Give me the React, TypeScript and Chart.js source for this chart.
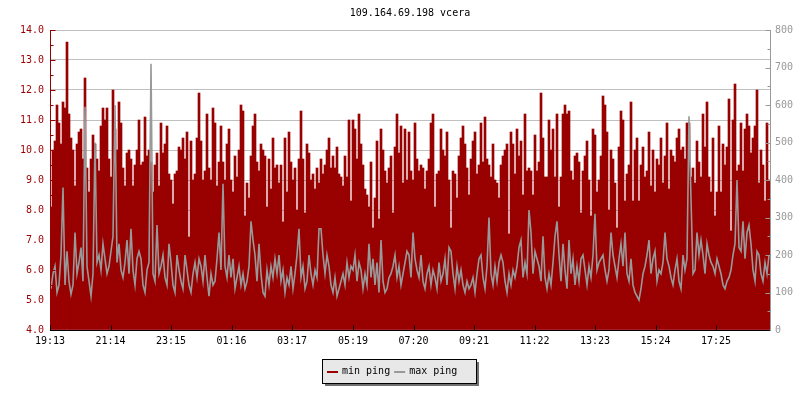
import React, { useEffect, useRef } from "react";
import { Chart, registerables } from "chart.js";

Chart.register(...registerables);

const TITLE = "109.164.69.198 vcera";
const seriesNames = ["min ping", "max ping"];
const timeLabels = ["19:13", "21:14", "23:15", "01:16", "03:17", "05:19", "07:20", "09:21", "11:22", "13:23", "15:24", "17:25"];

// min ping (left axis), one value per 2px column, 24h span
const minPing = [
  8.1, 10.0, 10.3, 11.5, 10.9, 10.2, 11.6, 11.4, 13.6, 11.2, 10.4, 10.0, 8.8, 10.2, 10.6, 10.7, 9.7, 12.4, 9.4, 8.6, 9.7, 10.5, 10.2, 9.7, 9.3, 10.8, 11.4, 11.0, 11.4, 9.7, 9.1, 12.0, 10.7, 10.0, 11.6, 10.9, 9.4, 8.8, 9.9, 10.0, 9.7, 8.8, 9.5, 10.0, 11.0,
  9.5, 9.6, 11.1, 9.8, 10.0, 9.6, 8.6, 9.5, 9.9, 8.8, 10.9, 9.9, 10.2, 10.8, 9.2, 9.0, 8.2, 9.2, 9.3, 10.1, 10.0, 10.4, 9.7, 10.6, 7.1, 10.3, 9.0, 9.2, 10.4, 11.9, 10.3, 9.0, 9.3, 11.2, 9.4, 9.0, 11.4, 10.9, 8.8, 9.6, 10.8, 9.6, 9.0, 10.2, 10.7,
  9.0, 8.6, 9.8, 9.1, 10.0, 11.5, 11.3, 7.8, 8.9, 8.4, 9.8, 10.8, 11.2, 9.6, 9.3, 10.2, 10.0, 9.8, 8.1, 9.7, 8.7, 10.4, 9.4, 9.5, 8.9, 9.5, 7.6, 10.4, 8.6, 10.6, 9.6, 9.0, 9.4, 8.0, 9.7, 11.3, 9.7, 7.9, 10.2, 9.9, 9.0, 9.2, 8.7, 9.4, 8.9,
  9.7, 9.2, 9.5, 10.0, 10.4, 9.4, 9.8, 9.4, 10.1, 9.2, 9.1, 8.8, 9.8, 9.1, 11.0, 8.3, 11.0, 10.7, 9.7, 11.2, 10.2, 9.5, 8.7, 8.5, 8.1, 9.6, 7.4, 8.4, 10.3, 7.7, 10.7, 10.0, 9.3, 8.9, 9.4, 9.8, 7.9, 10.1, 11.2, 9.9, 10.8, 8.9, 10.7, 9.0, 10.6,
  9.3, 9.0, 10.9, 9.7, 9.3, 9.5, 9.4, 8.7, 9.3, 9.7, 10.9, 11.2, 8.1, 9.2, 9.3, 10.7, 10.0, 9.8, 10.6, 9.0, 7.4, 9.3, 9.2, 8.4, 9.8, 10.4, 10.8, 10.2, 9.4, 8.5, 9.7, 10.3, 10.6, 9.2, 9.5, 10.9, 9.6, 11.1, 9.7, 9.5, 9.1, 10.2, 9.0, 8.9, 8.4,
  9.5, 9.8, 10.0, 10.2, 7.2, 10.6, 10.2, 9.2, 10.7, 9.8, 10.3, 8.5, 11.2, 9.3, 9.4, 9.3, 8.5, 10.5, 9.3, 9.6, 11.9, 10.4, 9.1, 9.1, 11.0, 10.0, 10.7, 9.1, 11.2, 8.1, 9.1, 11.2, 11.5, 11.2, 11.3, 9.3, 9.0, 9.8, 9.9, 9.6, 7.9, 9.3, 9.8, 10.3, 9.0,
  7.8, 10.7, 10.5, 8.6, 9.0, 9.8, 11.8, 11.5, 10.6, 8.0, 10.0, 9.7, 8.9, 7.4, 10.1, 11.3, 11.0, 8.3, 9.2, 9.5, 11.6, 8.3, 10.0, 10.4, 8.3, 9.5, 10.1, 9.1, 9.3, 10.6, 8.8, 10.0, 8.6, 9.7, 9.5, 10.4, 8.9, 9.8, 10.9, 8.7, 10.0, 9.8, 9.6, 10.4, 10.7,
  10.0, 10.1, 9.7, 10.9, 10.9, 9.1, 9.4, 8.9, 10.3, 9.6, 9.1, 11.2, 10.1, 11.6, 9.1, 8.6, 10.4, 7.8, 8.6, 10.8, 8.6, 10.2, 9.5, 10.1, 11.7, 7.3, 11.0, 12.2, 9.3, 9.5, 10.9, 9.3, 10.7, 11.2, 10.8, 9.9, 10.4, 10.8, 12.0, 8.9, 10.0, 9.5, 8.3, 10.9, 9.0,
];

// max ping (right axis)
const maxPing = [
  110, 150, 170, 100, 120, 200, 380, 120, 210, 130, 95, 120, 260, 150, 180, 220, 130, 595, 170, 130, 90, 150, 500, 180, 200, 160, 230, 190, 150, 170, 210, 250, 600, 180, 230, 160, 140, 180, 240, 150, 270, 160, 120, 190, 210,
  190, 120, 100, 160, 180, 710, 150, 130, 280, 150, 170, 200, 140, 120, 230, 180, 120, 100, 200, 160, 130, 110, 200, 160, 120, 100, 150, 180, 140, 190, 170, 130, 200, 140, 90, 150, 120, 130, 190, 260, 160, 390, 170, 140, 200,
  140, 190, 110, 140, 170, 120, 150, 110, 130, 170, 290, 240, 200, 130, 230, 150, 100, 90, 160, 120, 170, 140, 190, 150, 200, 130, 160, 100, 140, 120, 170, 110, 150, 200, 270, 140, 170, 110, 130, 200, 150, 120, 160, 140, 270,
  270, 200, 150, 200, 170, 120, 100, 140, 90, 110, 130, 150, 120, 180, 140, 170, 160, 200, 130, 180, 160, 110, 150, 120, 230, 140, 190, 120, 180, 100, 240, 130, 100, 110, 140, 150, 170, 200, 140, 170, 120, 150, 180, 210, 200,
  140, 260, 190, 160, 140, 200, 130, 110, 150, 170, 120, 160, 140, 110, 180, 130, 150, 190, 120, 220, 210, 150, 110, 170, 130, 160, 120, 100, 130, 110, 120, 140, 100, 150, 190, 200, 140, 110, 170, 300, 150, 120, 170, 130, 180,
  200, 180, 130, 100, 150, 120, 160, 140, 170, 220, 240, 140, 180, 150, 320, 260, 150, 210, 190, 170, 130, 250, 140, 110, 150, 120, 180, 250, 290, 200, 130, 230, 160, 110, 240, 150, 190, 120, 170, 130, 190, 200, 160, 120, 170,
  140, 200, 310, 160, 180, 190, 200, 160, 130, 160, 260, 200, 170, 140, 190, 230, 170, 260, 150, 130, 190, 120, 100, 90, 80, 110, 150, 170, 200, 240, 150, 190, 210, 130, 160, 150, 180, 260, 190, 170, 140, 120, 160, 190, 130,
  110, 200, 160, 190, 570, 350, 150, 160, 260, 200, 240, 200, 150, 230, 200, 180, 170, 150, 190, 170, 150, 120, 110, 130, 140, 160, 200, 230, 400, 220, 210, 290, 190, 260, 280, 230, 160, 130, 210, 200, 150, 130, 180, 150, 200,
];

const RED = "#990000";
const GRAY = "#999999";
const GRID = "#c0c0c0";
const FONT = "'DejaVu Sans Mono', monospace";
const FONT_SIZE = 10;

const toMin = (l: string) => {
  const [h, m] = l.split(":").map(Number);
  return h * 60 + m;
};
const startMin = toMin(timeLabels[0]);
const tickMinutes = timeLabels.map((l) => (toMin(l) - startMin + 1440) % 1440);
const slots = minPing.map((_, i) => String(i));

const decorPlugin = {
  id: "decor",
  afterDatasetsDraw(chart: any) {
    const { ctx, chartArea: a, scales } = chart;
    const y = scales.y;
    const y1 = scales.y1;
    const xt = scales.xt;
    ctx.save();
    ctx.lineWidth = 1;

    // left axis (red), ticks inward
    const lx = Math.round(a.left) + 0.5;
    ctx.strokeStyle = RED;
    ctx.beginPath();
    ctx.moveTo(lx, a.top);
    ctx.lineTo(lx, a.bottom);
    for (let v = y.min; v <= y.max + 1e-9; v += 0.5) {
      const py = Math.round(y.getPixelForValue(v)) + 0.5;
      const len = Math.abs(v - Math.round(v)) < 1e-9 ? 5 : 3;
      ctx.moveTo(lx, py);
      ctx.lineTo(lx + len, py);
    }
    ctx.stroke();

    // right axis (gray), ticks inward
    const rx = Math.round(a.right) + 0.5;
    ctx.strokeStyle = GRAY;
    ctx.beginPath();
    ctx.moveTo(rx, a.top);
    ctx.lineTo(rx, a.bottom + 1);
    for (let v = y1.min; v <= y1.max + 1e-9; v += 50) {
      const py = Math.round(y1.getPixelForValue(v)) + 0.5;
      const len = v % 100 === 0 ? 5 : 3;
      ctx.moveTo(rx, py);
      ctx.lineTo(rx - len, py);
    }
    ctx.stroke();

    // bottom axis (black), ticks upward
    const by = Math.round(a.bottom) + 0.5;
    ctx.strokeStyle = "#000";
    ctx.beginPath();
    ctx.moveTo(a.left, by);
    ctx.lineTo(a.right, by);
    tickMinutes.forEach((m) => {
      const px = Math.round(xt.getPixelForValue(m)) + 0.5;
      ctx.moveTo(px, by);
      ctx.lineTo(px, by - 5);
    });
    ctx.stroke();
    ctx.restore();
  },
  afterDraw(chart: any) {
    const { ctx, chartArea: a } = chart;
    ctx.save();
    ctx.font = `${FONT_SIZE}px ${FONT}`;
    ctx.textBaseline = "middle";

    // title
    ctx.fillStyle = "#000";
    ctx.textAlign = "center";
    ctx.fillText(TITLE, (a.left + a.right) / 2, 13);

    // legend box
    const items = [
      { label: seriesNames[0], color: RED },
      { label: seriesNames[1], color: GRAY },
    ];
    const lineLen = 11, gap = 4, itemGap = 4, padL = 5, padR = 19;
    let w = padL + padR;
    items.forEach((it, i) => {
      w += lineLen + gap + ctx.measureText(it.label).width + (i < items.length - 1 ? itemGap : 0);
    });
    w = Math.round(w);
    const bh = 24;
    const bx = Math.round(chart.width / 2 - w / 2) - 1;
    const bt = Math.round(a.bottom) + 29;
    ctx.fillStyle = "#707070";
    ctx.fillRect(bx + 3, bt + 3, w, bh);
    ctx.fillStyle = "#e8e8e8";
    ctx.fillRect(bx, bt, w, bh);
    ctx.strokeStyle = "#000";
    ctx.lineWidth = 1;
    ctx.strokeRect(bx + 0.5, bt + 0.5, w, bh);
    let cx = bx + padL;
    const cy = bt + bh / 2 + 0.5;
    ctx.textAlign = "left";
    items.forEach((it) => {
      ctx.strokeStyle = it.color;
      ctx.lineWidth = 2;
      ctx.beginPath();
      ctx.moveTo(cx, Math.round(cy));
      ctx.lineTo(cx + lineLen, Math.round(cy));
      ctx.stroke();
      cx += lineLen + gap;
      ctx.fillStyle = "#000";
      ctx.fillText(it.label, cx, cy);
      cx += ctx.measureText(it.label).width + itemGap;
    });
    ctx.restore();
  },
};

export default function App() {
  const ref = useRef<HTMLCanvasElement | null>(null);

  useEffect(() => {
    document.body.style.margin = "0";
    const canvas = ref.current;
    if (!canvas) return;
    const chart = new Chart(canvas, {
      type: "bar",
      data: {
        labels: slots,
        datasets: [
          {
            type: "line",
            label: seriesNames[1],
            data: maxPing,
            xAxisID: "x",
            yAxisID: "y1",
            borderColor: GRAY,
            borderWidth: 1.6,
            pointRadius: 0,
            tension: 0,
            fill: false,
            order: 1,
          } as any,
          {
            type: "bar",
            label: seriesNames[0],
            data: minPing,
            xAxisID: "x",
            yAxisID: "y",
            backgroundColor: RED,
            borderWidth: 0,
            barPercentage: 1,
            categoryPercentage: 1,
            base: 4,
            order: 2,
          } as any,
        ],
      },
      options: {
        responsive: false,
        animation: false,
        devicePixelRatio: 1,
        layout: { padding: { top: 30, left: 0, right: 0, bottom: 0 } },
        plugins: {
          legend: { display: false },
          title: { display: false },
          tooltip: { enabled: false },
        },
        scales: {
          x: {
            type: "category",
            display: false,
            offset: true,
          },
          xt: {
            type: "linear",
            axis: "x",
            position: "bottom",
            offset: false,
            min: 0,
            max: 1440,
            grid: { display: false, drawTicks: false, offset: false },
            border: { display: false },
            afterBuildTicks: (scale: any) => {
              scale.ticks = tickMinutes.map((v) => ({ value: v }));
            },
            afterFit: (scale: any) => {
              scale.height = 70;
            },
            ticks: {
              autoSkip: false,
              maxRotation: 0,
              padding: 5,
              color: "#000",
              font: { family: FONT, size: FONT_SIZE },
              callback: (value: any) => timeLabels[tickMinutes.indexOf(Number(value))],
            },
          } as any,
          y: {
            type: "linear",
            position: "left",
            min: 4,
            max: 14,
            grid: { color: GRID, drawTicks: false },
            border: { display: false },
            afterFit: (scale: any) => {
              scale.width = 50;
            },
            ticks: {
              stepSize: 1,
              padding: 6,
              color: RED,
              font: { family: FONT, size: FONT_SIZE },
              callback: (v: any) => Number(v).toFixed(1),
            },
          },
          y1: {
            type: "linear",
            position: "right",
            min: 0,
            max: 800,
            grid: { display: false, drawTicks: false },
            border: { display: false },
            afterFit: (scale: any) => {
              scale.width = 30;
            },
            ticks: {
              stepSize: 100,
              padding: 5,
              color: GRAY,
              font: { family: FONT, size: FONT_SIZE },
            },
          },
        },
      },
      plugins: [decorPlugin],
    });
    return () => chart.destroy();
  }, []);

  return (
    <div style={{ position: "absolute", left: 0, top: 0, width: 800, height: 400 }}>
      <canvas ref={ref} width={800} height={400} style={{ display: "block", width: 800, height: 400 }} />
    </div>
  );
}
